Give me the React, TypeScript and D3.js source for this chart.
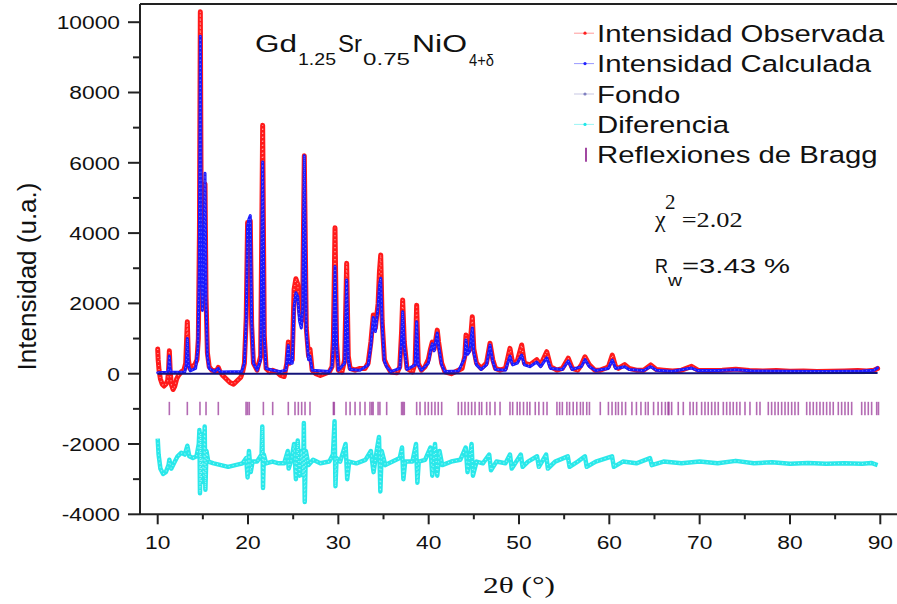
import React from 'react';
import * as d3 from 'd3';

// ---------- data ----------
const xTicks = [10, 20, 30, 40, 50, 60, 70, 80, 90];
const xMinorTicks = [15, 25, 35, 45, 55, 65, 75, 85];
const yTicks = [-4000, -2000, 0, 2000, 4000, 6000, 8000, 10000];
const yMinorTicks = [-3000, -1000, 1000, 3000, 5000, 7000, 9000];

const observed: [number, number][] = [
  [10.0, 700], [10.05, 400], [10.15, 100], [10.3, -150], [10.5, -300], [10.7, -350], [10.9, -300], [11.1, -200],
  [11.2, 100], [11.29, 650], [11.38, 100], [11.5, -300], [11.7, -450], [11.9, -350], [12.1, -150], [12.3, -50],
  [12.6, 50], [12.9, 100], [13.1, 300], [13.28, 1480], [13.4, 400], [13.55, 150], [13.8, 200], [14.1, 250],
  [14.35, 400], [14.5, 1000], [14.62, 4000], [14.72, 10300], [14.82, 4500], [14.95, 2000], [15.1, 3500],
  [15.24, 5400], [15.35, 2200], [15.5, 600], [15.7, 200], [16.0, 100], [16.5, 80], [16.71, 180], [16.9, 60],
  [17.2, -50], [17.6, -150], [18.0, -250], [18.4, -300], [18.8, -200], [19.2, -100], [19.4, 50], [19.6, 300],
  [19.8, 1600], [19.95, 4300], [20.1, 4200], [20.25, 4350], [20.4, 1400], [20.6, 300], [21.0, 100], [21.4, 500],
  [21.62, 7070], [21.8, 1100], [22.0, 150], [22.4, 50], [22.73, 100], [23.2, 50], [23.6, -50], [24.0, -80],
  [24.3, 300], [24.46, 900], [24.6, 300], [24.9, 400], [25.1, 2400], [25.3, 2700], [25.5, 2550], [25.7, 1800],
  [25.9, 1500], [26.05, 2000], [26.23, 6200], [26.45, 1300], [26.7, 500], [26.86, 700], [27.1, 100], [27.5, 0],
  [28.0, -50], [28.5, 0], [29.0, 50], [29.3, 200], [29.45, 1000], [29.63, 4150], [29.8, 900], [30.0, 100],
  [30.4, 50], [30.7, 400], [30.92, 3140], [31.1, 500], [31.3, 150], [31.85, 100], [32.4, 150], [32.95, 150],
  [33.3, 300], [33.6, 900], [33.87, 1670], [34.1, 1300], [34.4, 2000], [34.55, 2900], [34.69, 3380], [34.85, 1500],
  [35.1, 400], [35.35, 250], [35.8, 50], [36.5, 30], [36.8, 200], [37.0, 1200], [37.12, 2100], [37.3, 900],
  [37.6, 150], [38.2, 50], [38.5, 300], [38.67, 1950], [38.85, 300], [39.2, 100], [39.6, 200], [39.96, 400],
  [40.2, 700], [40.4, 900], [40.6, 700], [40.8, 1000], [40.95, 1240], [41.1, 900], [41.44, 300], [41.8, 50],
  [42.5, 0], [43.3, 100], [43.7, 150], [44.0, 500], [44.13, 1100], [44.3, 600], [44.55, 700], [44.83, 1620],
  [45.0, 700], [45.3, 300], [45.8, 150], [46.4, 300], [46.79, 865], [47.1, 400], [47.4, 150], [47.9, 100],
  [48.5, 150], [49.0, 720], [49.3, 300], [49.8, 350], [50.3, 816], [50.6, 300], [51.2, 250], [51.96, 400],
  [52.4, 250], [53.07, 626], [53.5, 200], [54.2, 100], [54.8, 150], [55.45, 440], [55.9, 150], [56.5, 100],
  [56.9, 250], [57.3, 480], [57.8, 250], [58.4, 100], [59.0, 100], [59.5, 150], [59.9, 200], [60.33, 530],
  [60.7, 200], [61.0, 150], [61.7, 260], [62.2, 150], [63.0, 100], [63.8, 100], [64.58, 250], [65.2, 120],
  [66.0, 100], [67.0, 80], [68.0, 100], [69.1, 210], [69.8, 100], [71.0, 90], [72.5, 100], [74.0, 130],
  [75.5, 90], [77.0, 80], [78.5, 90], [80.0, 70], [81.5, 80], [83.0, 60], [84.5, 70], [86.0, 80], [87.5, 90],
  [88.5, 80], [89.3, 100], [89.7, 150],
];

const calculated: [number, number][] = [
  [10.0, 30], [11.1, 40], [11.2, 150], [11.29, 500], [11.38, 150], [11.5, 40], [13.0, 50], [13.15, 250],
  [13.28, 1000], [13.4, 250], [13.6, 80], [14.2, 150], [14.45, 700], [14.6, 3000], [14.72, 9600], [14.82, 4000],
  [14.95, 1800], [15.1, 3000], [15.24, 5700], [15.35, 2000], [15.5, 500], [15.7, 150], [16.3, 60], [16.71, 150],
  [16.9, 50], [19.3, 60], [19.6, 300], [19.8, 1500], [19.95, 4200], [20.1, 4400], [20.25, 4500], [20.4, 1500],
  [20.6, 300], [21.0, 100], [21.4, 400], [21.62, 6020], [21.8, 1000], [22.0, 150], [22.73, 100], [23.5, 60],
  [24.2, 100], [24.46, 800], [24.6, 300], [24.9, 300], [25.1, 1900], [25.3, 2300], [25.5, 2200], [25.7, 1500],
  [25.9, 1300], [26.05, 1800], [26.23, 6200], [26.45, 1200], [26.7, 400], [26.86, 500], [27.1, 100], [29.0, 60],
  [29.3, 200], [29.45, 800], [29.63, 3050], [29.8, 800], [30.0, 100], [30.7, 300], [30.92, 2665], [31.1, 400],
  [31.3, 120], [32.4, 100], [33.3, 250], [33.6, 800], [33.87, 1600], [34.1, 1200], [34.4, 1900], [34.55, 2500],
  [34.69, 2714], [34.85, 1400], [35.1, 350], [35.35, 200], [35.8, 60], [36.8, 150], [37.0, 1000], [37.12, 1765],
  [37.3, 800], [37.6, 120], [38.5, 250], [38.67, 1480], [38.85, 250], [39.2, 100], [39.96, 300], [40.2, 650],
  [40.4, 850], [40.6, 650], [40.8, 950], [40.95, 1157], [41.1, 800], [41.44, 250], [41.8, 60], [43.3, 80],
  [44.0, 450], [44.13, 960], [44.3, 550], [44.55, 650], [44.83, 1300], [45.0, 600], [45.3, 250], [45.8, 120],
  [46.4, 250], [46.79, 816], [47.1, 350], [47.4, 120], [48.5, 100], [49.0, 500], [49.3, 250], [49.8, 300],
  [50.3, 530], [50.6, 250], [51.2, 200], [51.96, 330], [52.4, 200], [53.07, 450], [53.5, 150], [54.8, 120],
  [55.45, 360], [55.9, 120], [56.9, 200], [57.3, 400], [57.8, 200], [58.5, 90], [59.9, 150], [60.33, 390],
  [60.7, 150], [61.7, 200], [62.2, 120], [63.8, 90], [64.58, 200], [65.2, 100], [67.0, 70], [69.1, 160],
  [69.8, 90], [72.0, 90], [74.0, 110], [76.0, 80], [80.0, 70], [84.0, 65], [88.0, 80], [89.3, 100], [89.7, 170],
];

const background: [number, number][] = [
  [10.0, 0], [30.0, 0], [50.0, 5], [70.0, 10], [89.7, 20],
];

const difference: [number, number][] = [
  [10.0, -1850], [10.1, -2300], [10.3, -2700], [10.6, -2850], [10.9, -2800], [11.2, -2600], [11.29, -2450],
  [11.5, -2700], [11.8, -2550], [12.2, -2350], [12.6, -2250], [13.0, -2300], [13.28, -2050], [13.5, -2350],
  [13.9, -2400], [14.3, -2350], [14.55, -2000], [14.62, -1600], [14.68, -3400], [14.75, -1700], [14.82, -3100],
  [14.9, -2400], [15.1, -2900], [15.2, -1500], [15.28, -3300], [15.4, -2200], [15.6, -2500], [16.2, -2550],
  [17.0, -2600], [17.8, -2650], [18.6, -2600], [19.4, -2550], [19.8, -2400], [19.95, -2950], [20.1, -2200],
  [20.3, -2800], [20.5, -2500], [21.0, -2500], [21.5, -2300], [21.58, -1500], [21.66, -3250], [21.75, -2300],
  [22.0, -2550], [22.7, -2500], [23.4, -2550], [24.0, -2550], [24.4, -2200], [24.5, -2700], [24.8, -2450],
  [25.1, -2000], [25.3, -3000], [25.5, -1900], [25.7, -2900], [25.9, -2200], [26.1, -2900], [26.18, -1400],
  [26.28, -3650], [26.4, -2200], [26.7, -2600], [27.2, -2450], [28.0, -2550], [29.0, -2500], [29.4, -2300],
  [29.58, -1350], [29.68, -3200], [29.8, -2400], [30.2, -2500], [30.8, -2000], [30.98, -3000], [31.2, -2500],
  [32.0, -2550], [33.0, -2450], [33.6, -2200], [33.9, -2800], [34.3, -2100], [34.5, -1800], [34.65, -3350],
  [34.8, -2200], [35.2, -2600], [36.0, -2500], [36.8, -2400], [37.05, -2100], [37.2, -3000], [37.4, -2500],
  [38.2, -2500], [38.6, -2000], [38.75, -3100], [38.9, -2500], [39.6, -2450], [40.2, -2100], [40.4, -2900],
  [40.7, -2000], [40.95, -2900], [41.2, -2200], [41.5, -2600], [42.5, -2500], [43.5, -2450], [44.1, -2100],
  [44.3, -2800], [44.75, -2000], [44.9, -2900], [45.3, -2500], [46.0, -2550], [46.7, -2300], [46.9, -2750],
  [47.5, -2500], [48.5, -2550], [49.0, -2300], [49.2, -2700], [50.2, -2300], [50.4, -2650], [51.0, -2500],
  [52.0, -2350], [52.2, -2650], [53.0, -2300], [53.2, -2700], [54.0, -2500], [55.4, -2350], [55.6, -2650],
  [56.5, -2500], [57.3, -2350], [57.5, -2650], [58.5, -2500], [60.3, -2350], [60.5, -2650], [61.5, -2500],
  [63.0, -2550], [64.5, -2400], [64.7, -2600], [66.0, -2500], [68.0, -2550], [70.0, -2500], [72.0, -2550],
  [74.0, -2480], [76.0, -2550], [78.0, -2520], [80.0, -2560], [82.0, -2540], [84.0, -2560], [86.0, -2550],
  [88.0, -2560], [89.0, -2540], [89.7, -2600],
];

const braggPositions = [
  11.29, 13.28, 14.68, 15.35, 16.71, 19.78, 19.95, 20.14, 21.7, 22.73, 24.46, 25.2, 25.57, 25.94, 26.31, 26.86,
  29.45, 29.55, 30.85, 31.3, 31.85, 32.4, 32.95, 33.5, 33.7, 33.85, 34.4, 34.6, 35.35, 37.0, 37.15, 37.3,
  38.67, 39.04, 39.6, 39.96, 40.33, 40.7, 41.06, 41.44,
  43.28, 43.65, 44.02, 44.39, 44.76, 45.13, 45.6, 45.87, 46.42, 46.79, 47.34, 47.9,
  49.0, 49.3, 49.8, 50.1, 50.5, 50.9, 51.2, 51.8, 52.2, 52.7, 53.1,
  54.2, 54.5, 54.8, 55.3, 55.6, 56.0, 56.4, 56.8, 57.1, 57.5, 57.8,
  59.0, 59.9, 60.3, 60.7, 61.0, 61.4, 61.8, 62.5, 63.0, 63.5, 64.0, 64.3, 64.9, 65.4, 65.8, 66.2, 66.5,
  66.6, 66.9, 67.63, 68.19, 68.93, 69.29, 69.67, 70.22, 70.59, 70.95, 71.33, 71.7, 72.06, 72.62, 72.99, 73.36,
  73.72, 74.1, 74.46, 75.02, 75.57, 76.31, 76.68, 77.6, 77.97, 78.34, 78.7, 79.08, 79.45, 79.81, 80.19, 80.55,
  80.92, 81.85, 82.21, 82.58, 82.95, 83.32, 83.69, 84.06, 84.43, 84.79, 85.35, 85.72, 86.09, 86.45, 86.83,
  87.94, 88.3, 88.67, 89.04, 89.6, 89.8,
];

const legendLabels = [
  'Intensidad Observada',
  'Intensidad Calculada',
  'Fondo',
  'Diferencia',
  'Reflexiones de Bragg',
];

// ---------- chart ----------
const W = 897;
const H = 604;
const SANS = '"Liberation Sans", Arial, Helvetica, sans-serif';
const SERIF = '"Liberation Serif", "Times New Roman", serif';

export default function App() {
  const x = d3.scaleLinear().domain([10, 90]).range([157.7, 880.3]);
  const y = d3.scaleLinear().domain([-4000, 10000]).range([514.3, 22.2]);

  const line = d3
    .line<[number, number]>()
    .x((d) => x(d[0]))
    .y((d) => y(d[1]));

  const frameLeft = 140;
  const frameTop = 4;
  const frameBottom = y(-4000);
  const braggTop = y(-800);
  const braggBottom = y(-1180);

  const legendY = (i: number) => 41.7 + 30.4 * i;
  const legendColors = ['#ff2020', '#2020ff', '#8080c0', '#20e8e8', '#8b1a8b'];

  return (
    <div style={{ position: 'absolute', left: 0, top: 0 }}>
      <svg width={W} height={H} style={{ display: 'block', background: '#fff' }}>
        {/* difference */}
        <path d={line(difference) || ''} fill="none" stroke="#2ae8ea" strokeWidth={4.5} strokeLinejoin="round" />
        <path d={line(difference) || ''} fill="none" stroke="#9ff6f6" strokeWidth={1.2} strokeDasharray="1 3" />

        {/* bragg reflections */}
        {braggPositions.map((b, i) => (
          <line key={i} x1={x(b)} x2={x(b)} y1={braggTop} y2={braggBottom} stroke="#8b1a8b" strokeOpacity={0.65} strokeWidth={1.6} />
        ))}

        {/* observed */}
        <path d={line(observed) || ''} fill="none" stroke="#ff1a1a" strokeWidth={5} strokeLinejoin="round" strokeLinecap="round" />
        <path d={line(observed) || ''} fill="none" stroke="#ff9a9a" strokeWidth={1.2} strokeDasharray="1 3" />
        {/* calculated */}
        <path d={line(calculated) || ''} fill="none" stroke="#1a1aff" strokeWidth={3} strokeLinejoin="round" strokeLinecap="round" />
        <path d={line(calculated) || ''} fill="none" stroke="#7a7aff" strokeWidth={1} strokeDasharray="1 3" />
        {/* background */}
        <path d={line(background) || ''} fill="none" stroke="#14147a" strokeWidth={2} />

        {/* frame */}
        <line x1={frameLeft} x2={frameLeft} y1={frameTop} y2={frameBottom} stroke="#222" strokeWidth={2} />
        <line x1={frameLeft} x2={W + 5} y1={frameTop} y2={frameTop} stroke="#222" strokeWidth={2} />
        <line x1={frameLeft} x2={W + 5} y1={frameBottom} y2={frameBottom} stroke="#222" strokeWidth={2} />

        {/* x ticks */}
        {xTicks.map((t) => (
          <g key={'xt' + t}>
            <line x1={x(t)} x2={x(t)} y1={frameBottom} y2={frameBottom + 10} stroke="#222" strokeWidth={2} />
            <g transform={`translate(${x(t)},549) scale(1.2,1)`}>
              <text textAnchor="middle" fontFamily={SANS} fontSize={19} fill="#111">{t}</text>
            </g>
          </g>
        ))}
        {xMinorTicks.map((t) => (
          <line key={'xm' + t} x1={x(t)} x2={x(t)} y1={frameBottom} y2={frameBottom + 5} stroke="#222" strokeWidth={2} />
        ))}

        {/* y ticks */}
        {yTicks.map((t) => (
          <g key={'yt' + t}>
            <line x1={frameLeft - 12} x2={frameLeft} y1={y(t)} y2={y(t)} stroke="#222" strokeWidth={2} />
            <g transform={`translate(120,${y(t) + 6.8}) scale(1.2,1)`}>
              <text textAnchor="end" fontFamily={SANS} fontSize={19} fill="#111">{t}</text>
            </g>
          </g>
        ))}
        {yMinorTicks.map((t) => (
          <line key={'ym' + t} x1={frameLeft - 7} x2={frameLeft} y1={y(t)} y2={y(t)} stroke="#222" strokeWidth={2} />
        ))}

        {/* axis titles */}
        <text x={483} y={593} fontFamily={SERIF} fontSize={22.6} textLength={72} lengthAdjust="spacingAndGlyphs" fill="#111">2θ (°)</text>
        <text transform="translate(36,276.5) rotate(-90)" textAnchor="middle" fontFamily={SANS} fontSize={26} fill="#111">Intensidad (u.a.)</text>

        {/* formula title */}
        <g fontFamily={SANS} fill="#111">
          <text x={255} y={51.7} fontSize={23.5} textLength={42} lengthAdjust="spacingAndGlyphs">Gd</text>
          <text x={298} y={65} fontSize={17} textLength={38} lengthAdjust="spacingAndGlyphs">1.25</text>
          <text x={338} y={51.7} fontSize={23.5} textLength={24} lengthAdjust="spacingAndGlyphs">Sr</text>
          <text x={363} y={65} fontSize={17} textLength={47} lengthAdjust="spacingAndGlyphs">0.75</text>
          <text x={412} y={51.7} fontSize={23.5} textLength={55} lengthAdjust="spacingAndGlyphs">NiO</text>
          <text x={469} y={66} fontSize={17} textLength={25} lengthAdjust="spacingAndGlyphs">4+δ</text>
        </g>

        {/* legend */}
        {legendLabels.map((lab, i) => {
          const ly = legendY(i) - 8.5;
          return (
            <g key={lab}>
              {i < 4 ? (
                <g>
                  <line x1={574} x2={594} y1={ly} y2={ly} stroke={legendColors[i]} strokeOpacity={0.45} strokeWidth={1} />
                  <circle cx={585} cy={ly} r={1.6} fill={legendColors[i]} />
                </g>
              ) : (
                <line x1={586} x2={586} y1={ly - 7} y2={ly + 7} stroke={legendColors[i]} strokeWidth={1.6} />
              )}
              <g transform={`translate(597,${legendY(i)}) scale(1.26,1)`}>
                <text fontFamily={SANS} fontSize={23.3} fill="#111">{lab}</text>
              </g>
            </g>
          );
        })}

        {/* statistics */}
        <text x={655} y={226.7} fontFamily={SERIF} fontSize={24} fill="#111">χ</text>
        <text x={665} y={209} fontFamily={SERIF} fontSize={21} fill="#111">2</text>
        <text x={681.7} y={226.7} fontFamily={SERIF} fontSize={21} textLength={61} lengthAdjust="spacingAndGlyphs" fill="#111">=2.02</text>

        <text x={655} y={273.3} fontFamily={SANS} fontSize={21} textLength={13} lengthAdjust="spacingAndGlyphs" fill="#111">R</text>
        <text x={668} y={286} fontFamily={SANS} fontSize={17} textLength={14} lengthAdjust="spacingAndGlyphs" fill="#111">w</text>
        <text x={682} y={273.3} fontFamily={SANS} fontSize={21} textLength={108} lengthAdjust="spacingAndGlyphs" fill="#111">=3.43 %</text>
      </svg>
    </div>
  );
}
